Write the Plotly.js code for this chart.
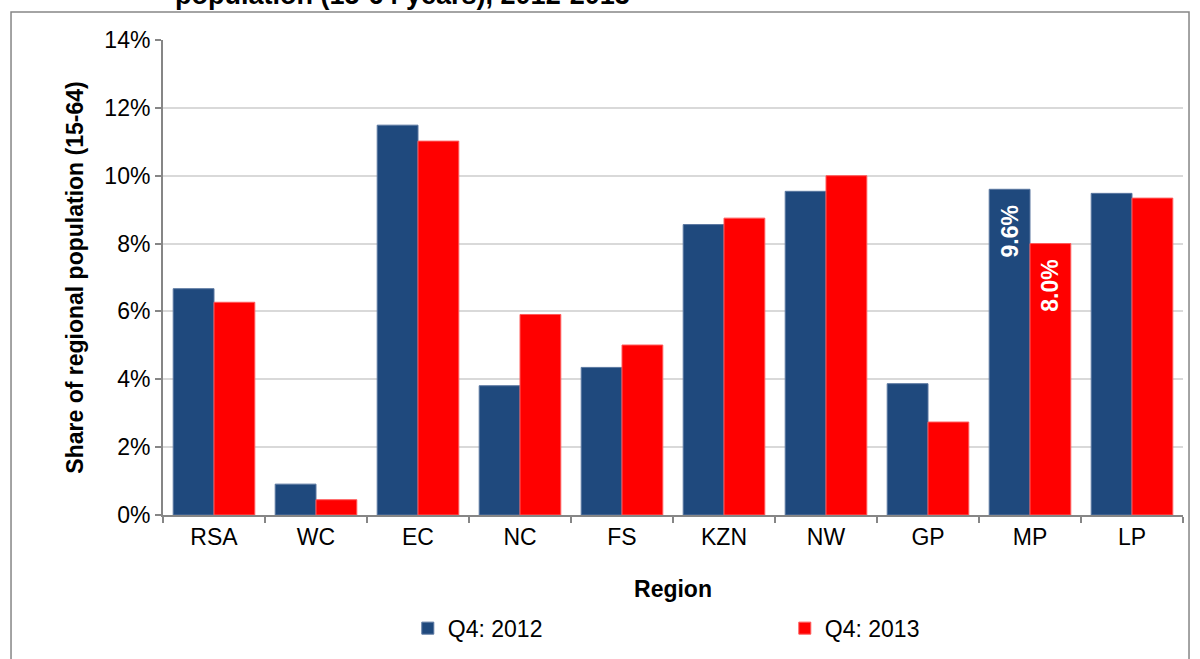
<!DOCTYPE html>
<html>
<head>
<meta charset="utf-8">
<script src="https://cdn.plot.ly/plotly-3.0.1.min.js"></script>
<style>html,body{margin:0;padding:0;background:#fff;}#chart{width:1200px;height:659px;}</style>
</head>
<body>
<div id="chart"></div>
<script>
const regions = ['RSA','WC','EC','NC','FS','KZN','NW','GP','MP','LP'];
const q4_2012 = [6.67, 0.91, 11.49, 3.81, 4.35, 8.56, 9.54, 3.87, 9.6, 9.48];
const q4_2013 = [6.27, 0.45, 11.02, 5.91, 5.01, 8.75, 10.0, 2.74, 8.0, 9.34];
const labelled = ['MP'];
const yTickVals = [0,2,4,6,8,10,12,14];
const yTickText = ['0%','2%','4%','6%','8%','10%','12%','14%'];
const titleText = 'population (15-64 years), 2012-2013';

const FONT = 'Liberation Sans, Arial, Helvetica, sans-serif';
const PAD = '\u00a0\u00a0';
function labels(vals){ return regions.map((r,i)=> labelled.includes(r) ? vals[i].toFixed(1)+'%'+PAD : ''); }

const traces = [
  {type:'bar', name:'Q4: 2012', x:regions, y:q4_2012, text:labels(q4_2012),
   marker:{color:'#1F497D', line:{color:'#5A77A0', width:1}},
   textposition:'inside', insidetextanchor:'end', textangle:-90,
   textfont:{family:FONT, size:23, color:'#ffffff', weight:'bold'}, hoverinfo:'x+y'},
  {type:'bar', name:'Q4: 2013', x:regions, y:q4_2013, text:labels(q4_2013),
   marker:{color:'#FF0000', line:{color:'#FF5A5A', width:1}},
   textposition:'inside', insidetextanchor:'end', textangle:-90,
   textfont:{family:FONT, size:23, color:'#ffffff', weight:'bold'}, hoverinfo:'x+y'}
];

const layout = {
  width:1200, height:659,
  margin:{l:163, r:17, t:40, b:144, autoexpand:false},
  paper_bgcolor:'#ffffff', plot_bgcolor:'#ffffff',
  font:{family:FONT, size:23, color:'#000000'},
  barmode:'group', bargap:0.2, bargroupgap:0,
  xaxis:{type:'category', showline:true, linecolor:'#868686', linewidth:2, ticks:'outside', tickson:'boundaries',
         ticklen:6, tickcolor:'#868686', tickwidth:2, showgrid:false,
         tickfont:{family:FONT, size:23, color:'#000000'},
         title:{text:'<b>Region</b>', font:{family:FONT, size:23, color:'#000000'}, standoff:32}},
  yaxis:{range:[0,14], tickvals:yTickVals, ticktext:yTickText, showline:true, linecolor:'#868686', linewidth:2,
         ticks:'outside', ticklen:6, tickcolor:'#868686', tickwidth:2,
         showgrid:true, gridcolor:'#d9d9d9', gridwidth:2, zeroline:false,
         tickfont:{family:FONT, size:23, color:'#000000'},
         title:{text:'<b>Share of regional population (15-64)</b>', font:{family:FONT, size:23, color:'#000000'}, standoff:14}},
  legend:{orientation:'h', x:0.24, xanchor:'left', y:-0.193, yanchor:'top', entrywidth:332, entrywidthmode:'pixels',
          itemwidth:30, font:{family:FONT, size:23, color:'#000000'}, traceorder:'normal'},
  annotations:[{text:'<b>'+titleText+'</b>', xref:'paper', yref:'paper', x:0.235, y:1.095, xanchor:'center', yanchor:'middle',
                showarrow:false, font:{family:FONT, size:27, color:'#000000'}}],
  shapes:[{type:'rect', xref:'paper', yref:'paper', x0:-0.149, x1:1.0059, y0:-0.4, y1:1.059,
           line:{color:'#868686', width:1.5}, fillcolor:'rgba(0,0,0,0)', layer:'below'}],
  showlegend:true
};

Plotly.newPlot('chart', traces, layout, {displayModeBar:false, staticPlot:true});
</script>
</body>
</html>
